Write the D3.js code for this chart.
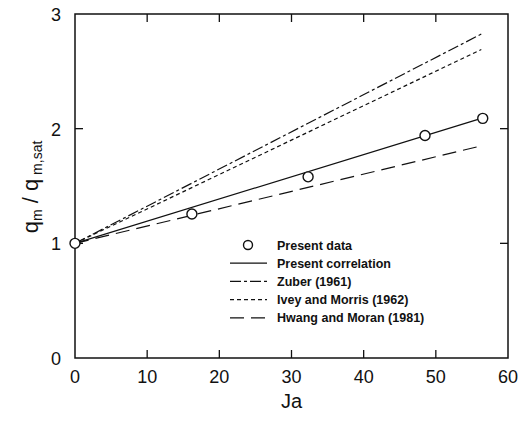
<!DOCTYPE html>
<meta charset="utf-8">
<style>
body { margin: 0; background: #fff; }
text { font-family: "Liberation Sans", Arial, sans-serif; fill: #111; }
</style>
<svg width="526" height="423"></svg>
<script src="https://d3js.org/d3.v7.min.js"></script>
<script>
// measured points (Ja, q/q_sat)
var dataJa = [0, 16.2, 32.3, 48.5, 56.5]
var dataQ  = [1, 1.256, 1.58, 1.94, 2.09]

// correlation lines at end points
var corrJa = [0, 56.3]
var presentQ = [1, 2.09]
var zuberQ   = [1, 2.825]
var iveyQ    = [1, 2.69]
var hwangQ   = [1, 1.85]

var xTicks = [0, 10, 20, 30, 40, 50, 60]
var yTicks = [0, 1, 2, 3]

var series = [
  { label: "Present correlation", q: presentQ, dash: null },
  { label: "Zuber (1961)", q: zuberQ, dash: "11,3,3,3" },
  { label: "Ivey and Morris (1962)", q: iveyQ, dash: "4,3" },
  { label: "Hwang and Moran (1981)", q: hwangQ, dash: "14,7" }
]

const svg = d3.select('svg')
const x = d3.scaleLinear().domain([0, 60]).range([75, 508])
const y = d3.scaleLinear().domain([0, 3]).range([358, 14])

// frame
svg.append('rect')
  .attr('x', x(0)).attr('y', y(3))
  .attr('width', x(60) - x(0)).attr('height', y(0) - y(3))
  .attr('fill', 'none').attr('stroke', '#111').attr('stroke-width', 1.5)

// inward ticks on all sides
const tl = 8
svg.append('g').selectAll('line.bt')
  .data(xTicks.slice(1, -1)).enter().append('line')
  .attr('x1', d => x(d)).attr('x2', d => x(d))
  .attr('y1', y(0)).attr('y2', y(0) - tl)
  .attr('stroke', '#111').attr('stroke-width', 1.3)
svg.append('g').selectAll('line.tt')
  .data(xTicks.slice(1, -1)).enter().append('line')
  .attr('x1', d => x(d)).attr('x2', d => x(d))
  .attr('y1', y(3)).attr('y2', y(3) + tl)
  .attr('stroke', '#111').attr('stroke-width', 1.3)
svg.append('g').selectAll('line.lt')
  .data(yTicks.slice(1, -1)).enter().append('line')
  .attr('x1', x(0)).attr('x2', x(0) + tl)
  .attr('y1', d => y(d)).attr('y2', d => y(d))
  .attr('stroke', '#111').attr('stroke-width', 1.3)
svg.append('g').selectAll('line.rt')
  .data(yTicks.slice(1, -1)).enter().append('line')
  .attr('x1', x(60)).attr('x2', x(60) - tl)
  .attr('y1', d => y(d)).attr('y2', d => y(d))
  .attr('stroke', '#111').attr('stroke-width', 1.3)

// tick labels
svg.append('g').selectAll('text')
  .data(xTicks).enter().append('text')
  .attr('x', d => x(d)).attr('y', y(0) + 25)
  .attr('text-anchor', 'middle').attr('font-size', 18)
  .text(d => d)
svg.append('g').selectAll('text')
  .data(yTicks).enter().append('text')
  .attr('x', x(0) - 14).attr('y', d => y(d) + 7)
  .attr('text-anchor', 'end').attr('font-size', 18)
  .text(d => d)

// axis titles
svg.append('text')
  .attr('x', x(30)).attr('y', 408)
  .attr('text-anchor', 'middle').attr('font-size', 20)
  .text('Ja')

var yt = svg.append('text')
  .attr('transform', 'translate(38,187) rotate(-90)')
  .attr('text-anchor', 'middle').attr('font-size', 22)
yt.append('tspan').text('q')
yt.append('tspan').attr('font-size', 14).attr('dy', 4).text('m')
yt.append('tspan').attr('dy', -4).text(' / q')
yt.append('tspan').attr('font-size', 14).attr('dy', 4).text(' m,sat')

// lines
const line = d3.line().x(d => x(d[0])).y(d => y(d[1]))
series.forEach(s => {
  svg.append('path')
    .datum(corrJa.map((j, i) => [j, s.q[i]]))
    .attr('d', line)
    .attr('fill', 'none').attr('stroke', '#111').attr('stroke-width', 1.2)
    .attr('stroke-dasharray', s.dash)
})

// data points
svg.append('g').selectAll('circle')
  .data(dataJa.map((j, i) => [j, dataQ[i]])).enter().append('circle')
  .attr('cx', d => x(d[0])).attr('cy', d => y(d[1]))
  .attr('r', 5).attr('fill', '#fff')
  .attr('stroke', '#111').attr('stroke-width', 1.4)

// legend
const lg = svg.append('g').attr('transform', 'translate(230,245)')
const rowH = 18.2
lg.append('circle').attr('cx', 18).attr('cy', 0).attr('r', 4.5)
  .attr('fill', '#fff').attr('stroke', '#111').attr('stroke-width', 1.4)
lg.append('text').attr('x', 47).attr('y', 4.5)
  .attr('font-size', 12.5).attr('font-weight', 'bold').text('Present data')
series.forEach((s, i) => {
  var yy = (i + 1) * rowH
  lg.append('line').attr('x1', 0).attr('x2', 37).attr('y1', yy).attr('y2', yy)
    .attr('stroke', '#111').attr('stroke-width', 1.3)
    .attr('stroke-dasharray', s.dash)
  lg.append('text').attr('x', 47).attr('y', yy + 4.5)
    .attr('font-size', 12.5).attr('font-weight', 'bold').text(s.label)
})
</script>
